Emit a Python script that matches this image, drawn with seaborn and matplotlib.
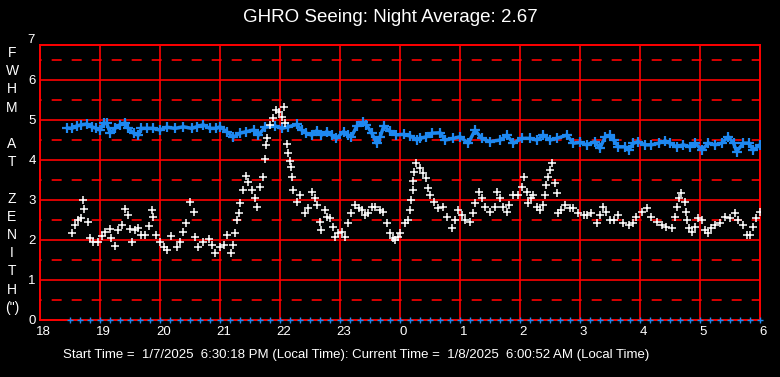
import numpy as np
import pandas as pd
import matplotlib
matplotlib.use("Agg")
import matplotlib.pyplot as plt
import matplotlib.transforms as mtransforms
import seaborn as sns

# hours are counted past 18:00, values above 24 wrap to the next morning
white_hours = [18.53, 18.58, 18.64, 18.68, 18.72, 18.73, 18.80, 18.83, 18.89, 18.97,
               19.03, 19.08, 19.17, 19.19, 19.25, 19.30, 19.36, 19.42, 19.47, 19.50,
               19.53, 19.58, 19.64, 19.69, 19.75, 19.81, 19.86, 19.89, 19.94, 20.00,
               20.06, 20.11, 20.19, 20.28, 20.33, 20.39, 20.44, 20.50, 20.56, 20.58,
               20.64, 20.72, 20.81, 20.86, 20.92, 21.00, 21.06, 21.11, 21.19, 21.22,
               21.25, 21.28, 21.31, 21.33, 21.39, 21.43, 21.47, 21.53, 21.58, 21.61,
               21.67, 21.72, 21.75, 21.77, 21.78, 21.83, 21.89, 21.94, 21.98, 22.03,
               22.06, 22.08, 22.11, 22.14, 22.17, 22.18, 22.20, 22.22, 22.28, 22.33,
               22.42, 22.47, 22.54, 22.58, 22.61, 22.67, 22.69, 22.75, 22.78, 22.83,
               22.89, 22.92, 22.97, 23.03, 23.08, 23.14, 23.19, 23.25, 23.31, 23.36,
               23.42, 23.47, 23.53, 23.58, 23.67, 23.72, 23.78, 23.83, 23.89, 23.92,
               23.97, 24.00, 24.08, 24.14, 24.17, 24.19, 24.21, 24.22, 24.24, 24.27,
               24.33, 24.39, 24.44, 24.47, 24.50, 24.56, 24.64, 24.72, 24.78, 24.86,
               24.92, 24.97, 25.03, 25.08, 25.17, 25.22, 25.25, 25.31, 25.36, 25.42,
               25.50, 25.58, 25.62, 25.67, 25.72, 25.78, 25.82, 25.89, 25.97, 26.03,
               26.06, 26.11, 26.14, 26.19, 26.22, 26.28, 26.33, 26.38, 26.42, 26.44,
               26.47, 26.50, 26.54, 26.58, 26.61, 26.64, 26.69, 26.75, 26.83, 26.89,
               26.97, 27.06, 27.11, 27.19, 27.28, 27.33, 27.39, 27.44, 27.50, 27.56,
               27.64, 27.72, 27.81, 27.89, 27.94, 28.03, 28.11, 28.19, 28.28, 28.36,
               28.44, 28.53, 28.58, 28.62, 28.65, 28.69, 28.75, 28.77, 28.78, 28.81,
               28.86, 28.92, 28.97, 29.03, 29.08, 29.14, 29.19, 29.25, 29.33, 29.42,
               29.50, 29.58, 29.64, 29.72, 29.78, 29.83, 29.89, 29.94, 30.00]
white_vals = [2.18, 2.37, 2.50, 2.54, 3.00, 2.77, 2.44, 2.04, 1.94, 1.96,
              2.10, 2.21, 2.27, 2.04, 1.85, 2.25, 2.37, 2.77, 2.63, 2.27,
              1.96, 2.25, 2.29, 2.12, 2.12, 2.35, 2.75, 2.58, 2.12, 1.96,
              1.83, 1.75, 2.10, 1.83, 1.96, 2.21, 2.42, 2.96, 2.71, 2.07,
              1.83, 1.96, 2.02, 1.88, 1.67, 1.82, 1.88, 2.12, 1.67, 1.88,
              2.17, 2.50, 2.67, 2.92, 3.25, 3.60, 3.46, 3.25, 3.04, 2.83,
              3.33, 3.58, 4.02, 4.38, 4.54, 4.88, 5.04, 5.25, 5.21, 5.08,
              5.33, 4.92, 4.40, 4.17, 3.98, 3.83, 3.57, 3.25, 2.96, 3.12,
              2.67, 2.79, 3.21, 3.04, 2.88, 2.46, 2.25, 2.75, 2.58, 2.54,
              2.33, 2.08, 2.17, 2.21, 2.08, 2.42, 2.67, 2.88, 2.79, 2.75,
              2.62, 2.67, 2.83, 2.83, 2.75, 2.71, 2.42, 2.17, 2.04, 2.00,
              2.08, 2.17, 2.42, 2.50, 2.75, 3.00, 3.25, 3.48, 3.71, 3.93,
              3.79, 3.67, 3.54, 3.29, 3.12, 2.96, 2.79, 2.83, 2.58, 2.29,
              2.50, 2.75, 2.62, 2.50, 2.46, 2.67, 2.92, 3.21, 3.04, 2.83,
              2.71, 2.83, 3.21, 3.04, 2.83, 2.71, 2.88, 3.12, 3.12, 3.33,
              3.58, 3.21, 2.92, 3.04, 3.12, 2.83, 2.75, 2.88, 3.12, 3.38,
              3.58, 3.75, 3.92, 3.42, 3.17, 2.67, 2.75, 2.88, 2.79, 2.79,
              2.67, 2.62, 2.62, 2.67, 2.42, 2.62, 2.83, 2.71, 2.50, 2.50,
              2.62, 2.42, 2.38, 2.42, 2.58, 2.71, 2.79, 2.58, 2.46, 2.38,
              2.33, 2.31, 2.58, 2.83, 3.04, 3.17, 2.96, 2.71, 2.50, 2.29,
              2.21, 2.33, 2.54, 2.50, 2.25, 2.17, 2.29, 2.38, 2.42, 2.58,
              2.54, 2.67, 2.50, 2.38, 2.12, 2.12, 2.33, 2.54, 2.71]

blue_hours = [18.45, 18.53, 18.61, 18.69, 18.78, 18.86, 18.94, 19.00, 19.06, 19.11,
              19.17, 19.25, 19.33, 19.42, 19.47, 19.56, 19.64, 19.69, 19.78, 19.89,
              20.00, 20.11, 20.25, 20.39, 20.53, 20.61, 20.72, 20.83, 20.94, 21.00,
              21.11, 21.22, 21.33, 21.44, 21.56, 21.64, 21.75, 21.92, 22.03, 22.14,
              22.28, 22.36, 22.44, 22.53, 22.61, 22.69, 22.78, 22.86, 22.94, 23.06,
              23.14, 23.19, 23.28, 23.39, 23.44, 23.53, 23.61, 23.67, 23.73, 23.83,
              23.94, 24.06, 24.17, 24.28, 24.33, 24.44, 24.53, 24.67, 24.75, 24.89,
              25.00, 25.14, 25.25, 25.36, 25.50, 25.67, 25.78, 25.89, 26.03, 26.17,
              26.28, 26.39, 26.50, 26.61, 26.78, 26.89, 27.00, 27.11, 27.25, 27.33,
              27.42, 27.50, 27.56, 27.64, 27.75, 27.81, 27.89, 27.97, 28.08, 28.19,
              28.31, 28.42, 28.50, 28.61, 28.72, 28.83, 28.92, 29.03, 29.14, 29.25,
              29.36, 29.47, 29.56, 29.61, 29.72, 29.81, 29.89, 30.00]
blue_vals = [4.80, 4.79, 4.85, 4.88, 4.90, 4.83, 4.79, 4.75, 4.92, 4.92,
             4.68, 4.79, 4.88, 4.93, 4.79, 4.67, 4.62, 4.79, 4.79, 4.79,
             4.75, 4.82, 4.79, 4.83, 4.79, 4.83, 4.88, 4.79, 4.79, 4.83,
             4.71, 4.57, 4.67, 4.71, 4.75, 4.62, 4.82, 4.85, 4.79, 4.83,
             4.89, 4.75, 4.67, 4.62, 4.73, 4.62, 4.71, 4.62, 4.54, 4.71,
             4.62, 4.58, 4.85, 4.94, 4.88, 4.67, 4.42, 4.58, 4.85, 4.72,
             4.63, 4.64, 4.60, 4.50, 4.54, 4.58, 4.67, 4.68, 4.50, 4.54,
             4.58, 4.42, 4.75, 4.54, 4.46, 4.50, 4.62, 4.42, 4.54, 4.54,
             4.50, 4.62, 4.50, 4.54, 4.62, 4.42, 4.44, 4.38, 4.46, 4.29,
             4.58, 4.62, 4.50, 4.33, 4.33, 4.25, 4.42, 4.46, 4.38, 4.38,
             4.42, 4.48, 4.42, 4.33, 4.38, 4.33, 4.42, 4.25, 4.42, 4.38,
             4.42, 4.58, 4.42, 4.21, 4.42, 4.42, 4.25, 4.38]

# sample times marked along the bottom (every 10 minutes)
sample_hours = np.arange(18.5, 30.01, 1 / 6)

title = "GHRO Seeing: Night Average: 2.67"
ylabel_letters = ["F", "W", "H", "M", "", "A", "T", "", "Z", "E", "N", "I", "T", "H", '(")']
footer = ("Start Time =  1/7/2025  6:30:18 PM (Local Time): "
          "Current Time =  1/8/2025  6:00:52 AM (Local Time)")

sns.set_style("dark")
plt.rcParams["font.family"] = ["Liberation Sans", "DejaVu Sans"]

RED = "#FF0000"
BLUE = "#1E88F0"

fig = plt.figure(figsize=(7.8, 3.77), dpi=100, facecolor="black")
ax = fig.add_axes([40 / 780, 57 / 377, 720 / 780, 275 / 377])
ax.set_facecolor("black")

# grid: solid at whole numbers, dashed at halves
for h in range(19, 30):
    ax.axvline(h, color=RED, lw=1.2, zorder=1)
for v in range(1, 7):
    ax.axhline(v, color=RED, lw=1.2, zorder=1)
for v in np.arange(0.5, 7, 1.0):
    ax.axhline(v, color=RED, lw=1.2, linestyle=(5, (6, 6)), zorder=1)

df_blue = pd.DataFrame({"hour": blue_hours, "fwhm": blue_vals})
df_white = pd.DataFrame({"hour": white_hours, "fwhm": white_vals})

sns.lineplot(data=df_blue, x="hour", y="fwhm", ax=ax, color=BLUE, lw=2.5,
             marker="+", markersize=7, markeredgewidth=1.6, markeredgecolor=BLUE,
             zorder=3)
sns.scatterplot(data=df_white, x="hour", y="fwhm", ax=ax, color="white",
                marker="+", s=40, linewidth=1.1, zorder=4)
ax.scatter(sample_hours, np.zeros_like(sample_hours), marker="+", s=22,
           color=BLUE, linewidth=1.0, zorder=5, clip_on=False)

ax.set_xlim(18, 30)
ax.set_ylim(0, 6.875)
ax.set_xticks(range(18, 31))
ax.set_xticklabels([str(h % 24) for h in range(18, 31)])
ax.set_yticks(range(0, 7))
ax.tick_params(colors="white", labelsize=9.5, length=0, pad=3)
ax.tick_params(axis="x", pad=4)
ax.set_xlabel("")
ax.set_ylabel("")
for s in ax.spines.values():
    s.set_color(RED)
    s.set_linewidth(1.4)
    s.set_visible(True)

# x labels sit a little right of their grid line
shift = mtransforms.ScaledTranslation(3.5 / 100, 0, fig.dpi_scale_trans)
for lab in ax.get_xticklabels():
    lab.set_transform(lab.get_transform() + shift)

trans = mtransforms.blended_transform_factory(ax.transAxes, ax.transData)
ax.text(-0.007, 7, "7", transform=trans, ha="right", va="center",
        color="white", fontsize=9.5, clip_on=False)

fig.text(0.5, 1 - 18 / 377, title, ha="center", va="center", color="white", fontsize=13.5)
for i, ch in enumerate(ylabel_letters):
    fig.text(12 / 780, 1 - (53 + 18.2 * i) / 377, ch, ha="center", va="center",
             color="white", fontsize=10)
fig.text(63 / 780, 1 - 355 / 377, footer, ha="left", va="center", color="white", fontsize=9.5)

fig.savefig("out.png", dpi=100, facecolor="black")
